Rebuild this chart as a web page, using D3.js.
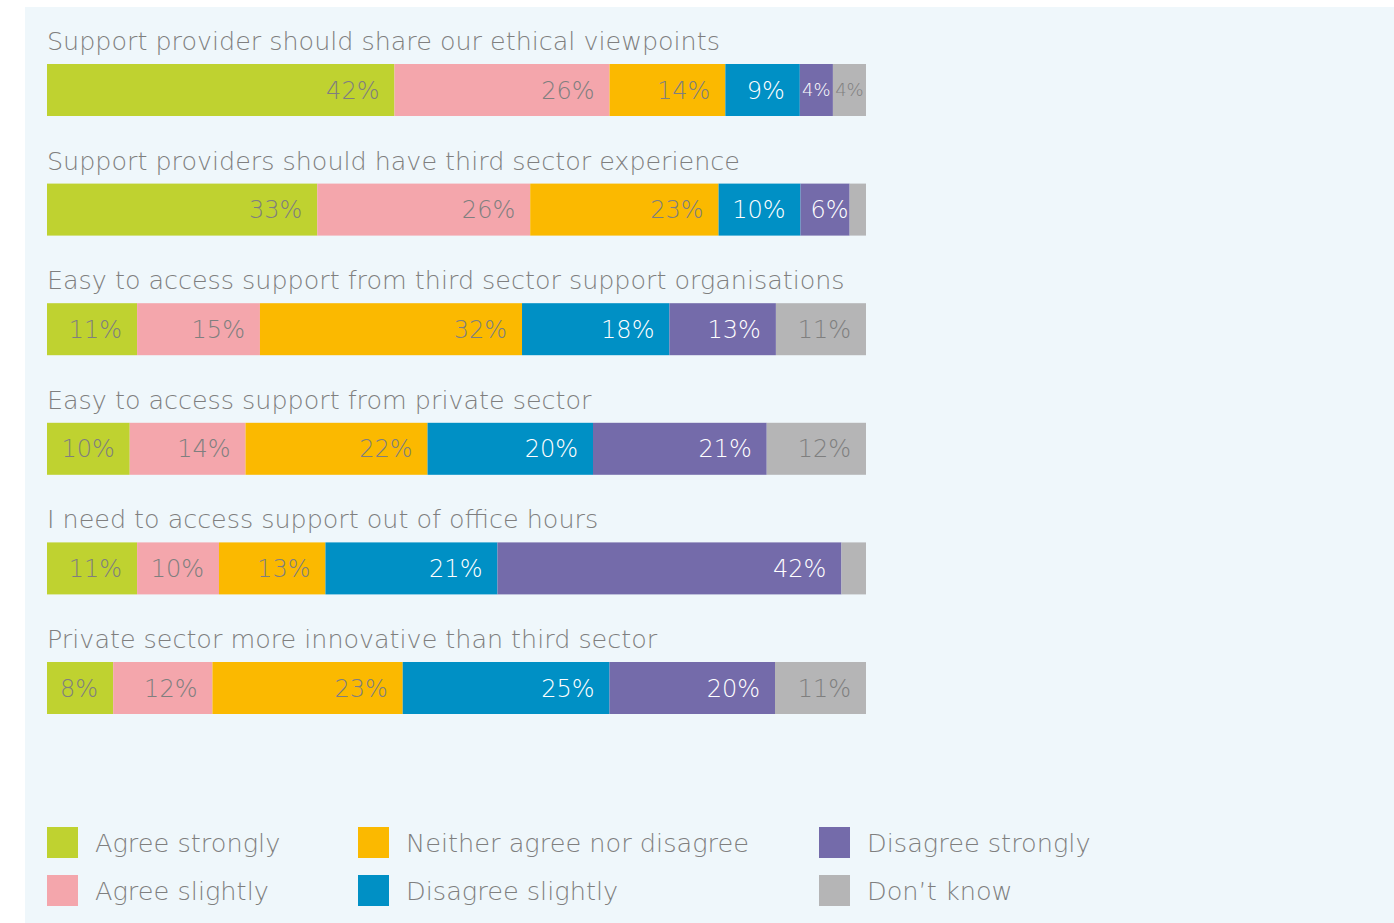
<!DOCTYPE html>
<html>
<head>
<meta charset="utf-8">
<script src="https://cdn.jsdelivr.net/npm/d3@7"></script>
<style>
  html, body { margin: 0; padding: 0; background: #ffffff; }
  svg { display: block; }
  text { font-family: "DejaVu Sans", sans-serif; font-weight: 200; }
</style>
</head>
<body>
<svg id="chart" width="1394" height="923"></svg>
<script>
// Survey statements, top to bottom
const statements = [
  "Support provider should share our ethical viewpoints",
  "Support providers should have third sector experience",
  "Easy to access support from third sector support organisations",
  "Easy to access support from private sector",
  "I need to access support out of office hours",
  "Private sector more innovative than third sector"
];

// Response categories, in stacking order
const responses = [
  "Agree strongly",
  "Agree slightly",
  "Neither agree nor disagree",
  "Disagree slightly",
  "Disagree strongly",
  "Don\u2019t know"
];

// Percentages per response (one array per category, one value per statement)
const agreeStrongly    = [42, 33, 11, 10, 11, 8];
const agreeSlightly    = [26, 26, 15, 14, 10, 12];
const neither          = [14, 23, 32, 22, 13, 23];
const disagreeSlightly = [9, 10, 18, 20, 21, 25];
const disagreeStrongly = [4, 6, 13, 21, 42, 20];
const dontKnow         = [4, 2, 11, 12, 3, 11];

// Which "Don't know" segments carry a printed percentage (thin slivers do not)
const labelledDontKnow = [true, false, true, true, false, true];

const colours = ["#bfd230", "#f4a6ac", "#fbb900", "#0090c5", "#746baa", "#b5b5b6"];
const textGrey = "#7f7f7f";
const labelColours = [textGrey, textGrey, textGrey, "#ffffff", "#ffffff", textGrey];

const series = [agreeStrongly, agreeSlightly, neither, disagreeSlightly, disagreeStrongly, dontKnow];

const svg = d3.select("#chart");

// Pale panel behind the chart
svg.append("rect")
  .attr("x", 25).attr("y", 7)
  .attr("width", 1394 - 25).attr("height", 923 - 7)
  .attr("fill", "#eff7fb");

const barLeft = 47, barRight = 866, barH = 52;
const y = d3.scalePoint().domain(statements).range([64, 662]);

const rows = statements.map((s, i) => {
  const vals = series.map(arr => arr[i]);
  const total = d3.sum(vals);
  const x = d3.scaleLinear().domain([0, total]).range([barLeft, barRight]);
  let acc = 0;
  const segs = vals.map((v, k) => {
    const seg = { k, v, x0: x(acc), x1: x(acc + v),
      labelled: k < 5 || labelledDontKnow[i] };
    acc += v;
    return seg;
  });
  return { statement: s, segs };
});

const rowG = svg.selectAll("g.row").data(rows).enter().append("g")
  .attr("class", "row")
  .attr("transform", d => `translate(0,${y(d.statement)})`);

rowG.append("text")
  .attr("x", barLeft).attr("y", -14)
  .attr("fill", textGrey)
  .attr("font-size", 25.4)
  .text(d => d.statement);

const segG = rowG.selectAll("g.seg").data(d => d.segs).enter().append("g").attr("class", "seg");

segG.append("rect")
  .attr("x", d => d.x0)
  .attr("y", 0)
  .attr("width", d => d.x1 - d.x0)
  .attr("height", barH)
  .attr("fill", d => colours[d.k]);

segG.filter(d => d.labelled).each(function(d) {
  const g = d3.select(this);
  const w = d.x1 - d.x0;
  const small = w < 45;
  const t = g.append("text")
    .attr("y", barH / 2)
    .attr("dy", "0.36em")
    .attr("fill", labelColours[d.k])
    .attr("font-size", small ? 18 : 24)
    .text(d.v + "%");
  const tw = t.node().getComputedTextLength();
  if (small) {
    t.attr("x", (d.x0 + d.x1) / 2).attr("text-anchor", "middle");
  } else if (tw + 18 > w) {
    t.attr("x", d.x1 - 1).attr("text-anchor", "end");
  } else {
    t.attr("x", d.x1 - 15).attr("text-anchor", "end");
  }
});

// Legend: three columns of two entries
const legendCols = [47, 358, 819];
const legendRows = [827, 875];
const legend = svg.selectAll("g.legend").data(responses).enter().append("g")
  .attr("class", "legend")
  .attr("transform", (d, i) => `translate(${legendCols[Math.floor(i / 2)]},${legendRows[i % 2]})`);

legend.append("rect")
  .attr("width", 31).attr("height", 31)
  .attr("fill", (d, i) => colours[i]);

legend.append("text")
  .attr("x", 48).attr("y", 15.5)
  .attr("dy", "0.36em")
  .attr("fill", textGrey)
  .attr("font-size", 25.6)
  .text(d => d);
</script>
</body>
</html>
